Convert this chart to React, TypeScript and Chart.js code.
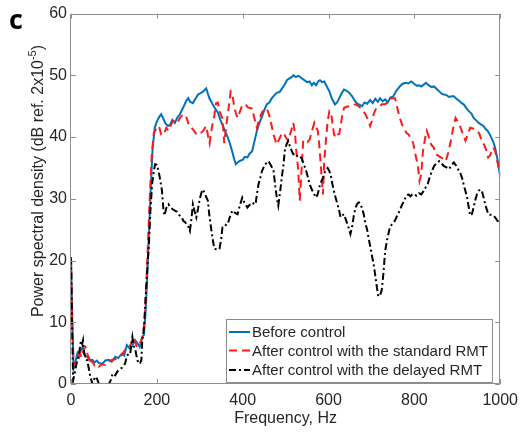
import React, { useEffect, useRef } from "react";
import { Chart, registerables } from "chart.js";

Chart.register(...registerables);

// ---------- Data ----------
const seriesLabels = [
  "Before control",
  "After control with the standard RMT",
  "After control with the delayed RMT",
];

const freqBefore = [
  0, 3, 6, 10, 15, 19, 23, 27, 31, 34, 40, 45, 50, 55, 60, 65, 73, 80, 88, 95,
  103, 110, 118, 124, 130, 136, 141, 145, 149, 155, 160, 166, 170, 174, 178, 182, 186, 190, 195, 200,
  205, 210, 215, 220, 226, 231, 236, 242, 248, 253, 258, 263, 268, 273, 278, 284, 290, 296, 302, 308,
  315, 319, 323, 330, 336, 342, 348, 354, 360, 365, 370, 375, 380, 384, 390, 395, 400, 405, 411, 416,
  422, 428, 433, 439, 445, 450, 456, 462, 468, 474, 480, 486, 491, 497, 503, 509, 514, 518, 524, 529,
  533, 538, 544, 550, 556, 561, 566, 571, 576, 580, 585, 590, 596, 602, 608, 615, 620, 625, 630, 636,
  642, 648, 655, 661, 667, 673, 678, 684, 690, 697, 703, 709, 715, 720, 726, 732, 738, 744, 751, 758,
  766, 772, 779, 786, 793, 800, 806, 811, 816, 822, 827, 833, 840, 846, 852, 858, 864, 869, 875, 881,
  887, 892, 898, 904, 910, 915, 921, 927, 933, 938, 944, 950, 956, 961, 966, 971, 976, 980, 984, 988,
  992, 995, 998, 1000,
];
const psdBefore = [
  20.5, 10, 2.5, 3.5, 5, 4.4, 5.5, 6, 5, 4.4, 4.5, 3.8, 3.9, 3.5, 3.8, 3.4, 3.3, 3.8, 3.9, 3.6,
  4.4, 4.2, 4.9, 4.6, 6.3, 5.8, 6, 6.5, 7.1, 6.6, 6, 7.6, 8, 12, 18, 25, 32, 38, 41.5, 42.5,
  43.2, 43.7, 43, 42.2, 41.8, 42, 42.8, 42.3, 43.2, 43.6, 44.3, 45, 45.8, 46.3, 45.7, 45.5, 46.2, 46.9, 47.1, 47.4,
  47.9, 47, 46.2, 45.3, 44.6, 44, 42.8, 41.8, 40.8, 40, 39, 37.8, 36.5, 35.6, 36, 36.2, 36.3, 36.8, 36.7, 37.3,
  37.7, 39.5, 41, 42.3, 43.3, 44.3, 45.3, 45.6, 46.3, 46.8, 47.2, 47.3, 47.8, 48.4, 49.2, 49.5, 49.7, 50, 49.7, 49.9,
  49.8, 49.5, 49.2, 48.9, 49, 48.4, 48.8, 48.4, 49, 49.2, 48.9, 49, 48.2, 47.4, 46.2, 45.3, 45.6, 46.3, 47, 47.7,
  47.5, 47.2, 46.6, 45.9, 45.4, 45.2, 45, 45.6, 45.4, 46, 45.5, 46.2, 45.7, 46.3, 45.8, 46.1, 45.6, 46.4, 46.6, 47.5,
  48.2, 48.6, 48.8, 48.7, 49, 48.6, 48.3, 48.4, 48.2, 48.5, 48.8, 48.4, 48.1, 48.2, 47.8, 47.4, 47, 46.9, 46.8, 46.5,
  46.6, 46.6, 46.2, 45.9, 45.5, 45.3, 44.7, 44.2, 43.8, 43.1, 42.7, 42.3, 42, 41.8, 41.3, 41, 40.4, 39.8, 39.2, 38.3,
  37, 35.8, 34.5, 33.5,
];

const freqStandard = [
  0, 3, 6, 10, 15, 21, 25, 29, 34, 37, 42, 48, 55, 60, 65, 72, 80, 88, 95, 103,
  111, 118, 126, 133, 140, 145, 149, 153, 158, 164, 168, 172, 176, 180, 184, 188, 193, 200, 205, 210,
  216, 222, 227, 232, 237, 242, 248, 253, 259, 265, 270, 275, 281, 287, 293, 298, 303, 308, 315, 319,
  323, 328, 334, 338, 342, 347, 353, 357, 361, 366, 372, 376, 380, 384, 388, 393, 398, 403, 407, 412,
  417, 422, 426, 430, 433, 438, 445, 450, 456, 462, 467, 472, 476, 479, 484, 490, 495, 500, 506, 512,
  518, 522, 525, 529, 533, 537, 541, 546, 551, 556, 561, 567, 571, 575, 579, 583, 587, 590, 594, 598,
  602, 606, 610, 613, 617, 621, 625, 628, 632, 636, 642, 648, 655, 663, 670, 678, 686, 692, 697, 701,
  705, 710, 716, 724, 732, 740, 747, 755, 760, 766, 772, 778, 781, 787, 793, 797, 801, 804, 808, 812,
  816, 820, 825, 829, 834, 839, 845, 850, 856, 862, 867, 873, 879, 885, 890, 896, 902, 908, 913, 919,
  924, 930, 936, 942, 946, 951, 957, 962, 967, 972, 976, 980, 984, 988, 992, 995, 998, 1000,
];
const psdStandard = [
  20.5, 10, 3, 3.5, 4.3, 4.9, 4.3, 5.5, 6, 5.5, 3.3, 3.8, 3, 3.2, 2.8, 3.2, 3.1, 3.6, 3.9, 4,
  4.4, 4.7, 5.5, 5.7, 6.5, 7.6, 7, 6, 6.4, 7.1, 8, 11, 17, 24, 31, 37, 40.7, 41.5, 41.8, 40.4,
  40.4, 41.5, 41, 41.8, 42.6, 42.6, 42.3, 43, 43.5, 43.7, 43, 41.8, 41.5, 41, 40.4, 40.7, 40.7, 41, 41.8, 40.3,
  39, 41.5, 43.5, 45.5, 45.6, 44, 43, 39, 41.5, 44, 47.4, 47, 45, 43.9, 43.1, 44, 45, 45.3, 45.3, 44.8,
  44.7, 44.6, 43.4, 42.3, 41.5, 42.8, 44, 44.4, 44.7, 43.5, 42, 40.4, 39.5, 38.8, 39.5, 40.4, 40.7, 40, 39.4, 40.8,
  42.3, 40.5, 37.7, 35, 29.7, 34.5, 39.4, 39.5, 39.2, 39.6, 40.9, 42.3, 41.6, 41, 38.3, 34.5, 30.7, 36.1, 39.5, 42.6,
  44.2, 43.9, 41.8, 40.4, 39.9, 40.4, 40.5, 41.8, 43.5, 44.7, 44.9, 45, 45.1, 45.3, 45, 44.5, 43.7, 42.8, 41.8, 42.6,
  43.7, 44.5, 44.7, 45.3, 45.3, 45.8, 46.3, 46.3, 44.8, 43.1, 41.9, 41.3, 40.7, 40.4, 39.5, 39.1, 37.7, 36.7, 35.5, 32.9,
  34, 37.7, 39.8, 41, 40, 38.8, 38.3, 37.2, 37, 36.7, 36.5, 36.1, 37.5, 39.4, 41.3, 43.1, 42.4, 41.5, 40.5, 39.4,
  40.3, 41.5, 41.4, 41.3, 41, 40.6, 39.4, 38.8, 38, 36.7, 37, 37.6, 38.3, 37.8, 36.5, 35.5, 34.5, 34,
];

const freqDelayed = [
  0, 3, 5, 8, 12, 15, 19, 23, 26, 28, 31, 35, 38, 42, 45, 50, 54, 57, 61, 65,
  70, 80, 88, 92, 97, 103, 108, 112, 118, 122, 126, 130, 135, 138, 143, 147, 150, 153, 157, 161,
  164, 166, 170, 174, 178, 181, 185, 189, 193, 196, 200, 204, 208, 212, 215, 218, 222, 227, 232, 237,
  242, 247, 252, 258, 262, 266, 269, 273, 277, 281, 284, 288, 292, 296, 300, 304, 307, 311, 315, 319,
  322, 326, 330, 334, 340, 346, 350, 353, 358, 362, 365, 370, 376, 381, 388, 393, 399, 404, 411, 416,
  422, 426, 430, 433, 437, 441, 445, 452, 456, 460, 465, 469, 472, 476, 480, 483, 487, 491, 495, 498,
  502, 506, 510, 514, 518, 524, 528, 533, 538, 544, 548, 552, 556, 561, 566, 571, 575, 579, 583, 587,
  592, 598, 602, 606, 609, 614, 618, 621, 625, 628, 632, 636, 641, 646, 651, 655, 659, 663, 667, 671,
  675, 678, 682, 686, 690, 693, 698, 702, 705, 709, 713, 716, 720, 724, 728, 732, 737, 743, 749, 755,
  760, 766, 771, 776, 781, 786, 791, 796, 800, 805, 811, 816, 821, 826, 831, 836, 841, 846, 852, 858,
  863, 869, 875, 881, 886, 892, 898, 904, 908, 911, 916, 920, 923, 927, 930, 934, 938, 942, 946, 950,
  954, 957, 961, 965, 969, 972, 976, 980, 984, 988, 992, 995, 998, 1000,
];
const psdDelayed = [
  20.5, 8, 0.6, 1.5, 3, 3.9, 5, 7, 6.5, 7.1, 4.9, 4, 3.8, 2.3, 1.2, 0, 0.8, 1.2, 0.8, 0,
  0, 0, 0, 0.5, 1.7, 1.4, 2, 2.3, 2.6, 3, 3.3, 4.5, 5, 4.9, 7.6, 5.8, 5.5, 4.4, 3.3, 3.4,
  3.9, 7.1, 9, 14, 19, 22, 28, 32.4, 34.5, 35.6, 35.5, 34.5, 33, 31.3, 28.5, 27.3, 28.5, 29.1, 28.6, 28.3,
  28.1, 27.9, 27.4, 27, 26.4, 26.2, 25.9, 25.5, 24.8, 27, 29.1, 28, 27, 28.4, 30, 31, 31.5, 31, 30.3, 29.7,
  27.5, 25.4, 23.5, 21.9, 21.8, 21.9, 23.5, 25.4, 25.5, 25.9, 25.9, 27, 28.1, 27.8, 27.5, 28.8, 30.2, 29.4, 28.6, 29,
  29.4, 29.2, 29.1, 30.7, 32.4, 33.4, 34.5, 35.6, 35.8, 36.1, 35.5, 35, 34.5, 32, 30, 28.9, 31, 33.4, 35.5, 37.7,
  38.8, 39.4, 38.5, 37.8, 37.2, 37.3, 36.8, 36.9, 36.5, 35.3, 34.5, 33.5, 32.4, 31.5, 30.8, 30.2, 30.8, 32, 32.8, 33.4,
  34.5, 35, 34.5, 33.5, 32.4, 30.8, 29.8, 29.1, 28, 27, 27.3, 27.5, 26.5, 25.5, 24.3, 25.5, 27.3, 28.6, 29.2, 29.4,
  29, 28.5, 27.5, 26, 25, 23.8, 22, 20.5, 19.5, 17.5, 15.5, 14.2, 14.4, 15.2, 18, 21.6, 23.5, 25.4, 26, 26.5,
  27.3, 28.1, 29, 29.6, 30.5, 30.7, 30.4, 30.8, 30.7, 30.5, 30.9, 30.7, 31.2, 31.8, 32.4, 33.6, 34.5, 35.3, 35.8, 36.1,
  35.7, 35.3, 35.1, 34.8, 35.4, 35.9, 35.3, 34.5, 34, 33.4, 32, 31, 30.2, 28.5, 27.3, 27.5, 28.6, 29.8, 30.8, 31.3,
  31.5, 31.3, 30.3, 29.1, 28.2, 27.5, 27.4, 27.4, 27.3, 27, 26.6, 26.3, 25.9, 25.9,
];

const xTickValues = [0, 200, 400, 600, 800, 1000];
const yTickValues = [0, 10, 20, 30, 40, 50, 60];

// ---------- Styles ----------
const FONT = "'Liberation Sans', Arial, Helvetica, sans-serif";
const TEXT_COLOR = "#262626";
const AXIS_COLOR = "#8f8f8f";
const BLUE = "#0072BD";
const RED = "#FF1A1A";
const BLACK = "#000000";
const RED_DASH = [8, 5];
const BLACK_DASH = [7, 3, 2, 3];

export default function App() {
  const canvasRef = useRef<HTMLCanvasElement | null>(null);

  useEffect(() => {
    const canvas = canvasRef.current;
    if (!canvas) return;

    const toPoints = (xs: number[], ys: number[]) =>
      xs.map((x, i) => ({ x, y: ys[i] }));

    const legendStyles = [
      { color: BLUE, dash: [] as number[] },
      { color: RED, dash: RED_DASH },
      { color: BLACK, dash: BLACK_DASH },
    ];

    const decor = {
      id: "decor",
      afterDatasetsDraw(chart: any) {
        const { ctx, chartArea } = chart;
        const { left, right, top, bottom } = chartArea;
        const xs = chart.scales.x;
        const ys = chart.scales.y;
        ctx.save();
        // box
        ctx.strokeStyle = AXIS_COLOR;
        ctx.lineWidth = 1;
        ctx.setLineDash([]);
        ctx.beginPath();
        ctx.rect(Math.round(left) - 0.5, Math.round(top) + 0.5, Math.round(right - left), Math.round(bottom - top) - 1);
        ctx.stroke();
        // inward ticks
        const tl = 5;
        ctx.beginPath();
        xTickValues.forEach((v) => {
          const px = Math.round(xs.getPixelForValue(v)) + 0.5;
          ctx.moveTo(px, bottom);
          ctx.lineTo(px, bottom - tl);
          ctx.moveTo(px, top);
          ctx.lineTo(px, top + tl);
        });
        yTickValues.forEach((v) => {
          const py = Math.round(ys.getPixelForValue(v)) + 0.5;
          ctx.moveTo(left, py);
          ctx.lineTo(left + tl, py);
          ctx.moveTo(right, py);
          ctx.lineTo(right - tl, py);
        });
        ctx.stroke();

        // legend box inside the plot, bottom right
        ctx.font = `15px ${FONT}`;
        const textW = Math.max(...seriesLabels.map((s) => ctx.measureText(s).width));
        const sampleW = 21;
        const boxW = 3 + sampleW + 2 + textW + 4;
        const boxH = 63;
        const bx = Math.round(right - 8 - boxW);
        const by = Math.round(bottom - 2 - boxH);
        ctx.fillStyle = "#ffffff";
        ctx.fillRect(bx, by, boxW, boxH);
        ctx.strokeStyle = "#8a8a8a";
        ctx.lineWidth = 1;
        ctx.strokeRect(bx + 0.5, by + 0.5, boxW, boxH);
        const rowY = [by + 13, by + 31.5, by + 51];
        seriesLabels.forEach((label, i) => {
          const st = legendStyles[i];
          ctx.strokeStyle = st.color;
          ctx.lineWidth = 2;
          ctx.setLineDash(st.dash);
          ctx.beginPath();
          ctx.moveTo(bx + 3, rowY[i]);
          ctx.lineTo(bx + 3 + sampleW, rowY[i]);
          ctx.stroke();
          ctx.setLineDash([]);
          ctx.fillStyle = TEXT_COLOR;
          ctx.textAlign = "left";
          ctx.textBaseline = "middle";
          ctx.fillText(label, bx + 3 + sampleW + 2, rowY[i] + 1);
        });
        ctx.restore();
      },
      afterDraw(chart: any) {
        const { ctx, chartArea } = chart;
        ctx.save();
        // panel letter
        ctx.fillStyle = "#000000";
        ctx.font = `bold 27px 'Open Sans', 'DejaVu Sans', sans-serif`;
        ctx.textAlign = "left";
        ctx.textBaseline = "alphabetic";
        ctx.fillText("c", 9, 29);

        // x title
        ctx.fillStyle = TEXT_COLOR;
        ctx.font = `16px ${FONT}`;
        ctx.textAlign = "center";
        ctx.textBaseline = "middle";
        ctx.fillText("Frequency, Hz", (chartArea.left + chartArea.right) / 2, 419);

        // y title with superscript
        const main = "Power spectral density (dB ref. 2x10";
        const sup = "-5";
        const end = ")";
        ctx.translate(39, 181);
        ctx.rotate(-Math.PI / 2);
        ctx.textAlign = "left";
        ctx.textBaseline = "middle";
        ctx.font = `16px ${FONT}`;
        const w1 = ctx.measureText(main).width;
        const w3 = ctx.measureText(end).width;
        ctx.font = `11px ${FONT}`;
        const w2 = ctx.measureText(sup).width;
        const total = w1 + w2 + w3;
        let x0 = -total / 2;
        ctx.font = `16px ${FONT}`;
        ctx.fillText(main, x0, 0);
        x0 += w1;
        ctx.font = `11px ${FONT}`;
        ctx.fillText(sup, x0, -6);
        x0 += w2;
        ctx.font = `16px ${FONT}`;
        ctx.fillText(end, x0, 0);
        ctx.restore();
      },
    };

    const chart = new Chart(canvas, {
      type: "line",
      data: {
        datasets: [
          {
            label: seriesLabels[0],
            data: toPoints(freqBefore, psdBefore),
            borderColor: BLUE,
            backgroundColor: BLUE,
            borderWidth: 2,
            pointRadius: 0,
            tension: 0,
            fill: false,
            order: 3,
          },
          {
            label: seriesLabels[1],
            data: toPoints(freqStandard, psdStandard),
            borderColor: RED,
            backgroundColor: RED,
            borderWidth: 2,
            borderDash: RED_DASH,
            pointRadius: 0,
            tension: 0,
            fill: false,
            order: 2,
          },
          {
            label: seriesLabels[2],
            data: toPoints(freqDelayed, psdDelayed),
            borderColor: BLACK,
            backgroundColor: BLACK,
            borderWidth: 2,
            borderDash: BLACK_DASH,
            pointRadius: 0,
            tension: 0,
            fill: false,
            order: 1,
          },
        ],
      },
      options: {
        animation: false,
        responsive: true,
        maintainAspectRatio: false,
        events: [],
        layout: { padding: { left: 0, top: 12, right: 18, bottom: 0 } },
        plugins: {
          legend: { display: false },
          tooltip: { enabled: false },
          title: { display: false },
        },
        scales: {
          x: {
            type: "linear",
            min: 0,
            max: 1000,
            afterBuildTicks: (scale: any) => {
              scale.ticks = xTickValues.map((v) => ({ value: v }));
            },
            afterFit: (scale: any) => {
              scale.height = 51;
            },
            grid: { display: false, drawTicks: false },
            border: { display: false },
            ticks: {
              color: TEXT_COLOR,
              font: { family: FONT, size: 16 },
              padding: 7,
              maxRotation: 0,
              autoSkip: false,
              callback: (value: any) => String(value),
            },
          },
          y: {
            type: "linear",
            min: 0,
            max: 60,
            afterBuildTicks: (scale: any) => {
              scale.ticks = yTickValues.map((v) => ({ value: v }));
            },
            afterFit: (scale: any) => {
              scale.width = 71;
            },
            grid: { display: false, drawTicks: false },
            border: { display: false },
            ticks: {
              color: TEXT_COLOR,
              font: { family: FONT, size: 16 },
              padding: 4,
              autoSkip: false,
              callback: (value: any) => String(value),
            },
          },
        },
      },
      plugins: [decor],
    } as any);

    return () => {
      chart.destroy();
    };
  }, []);

  return (
    <div
      style={{
        position: "absolute",
        left: 0,
        top: 0,
        width: 525,
        height: 435,
        background: "#ffffff",
      }}
    >
      <canvas ref={canvasRef} />
    </div>
  );
}
